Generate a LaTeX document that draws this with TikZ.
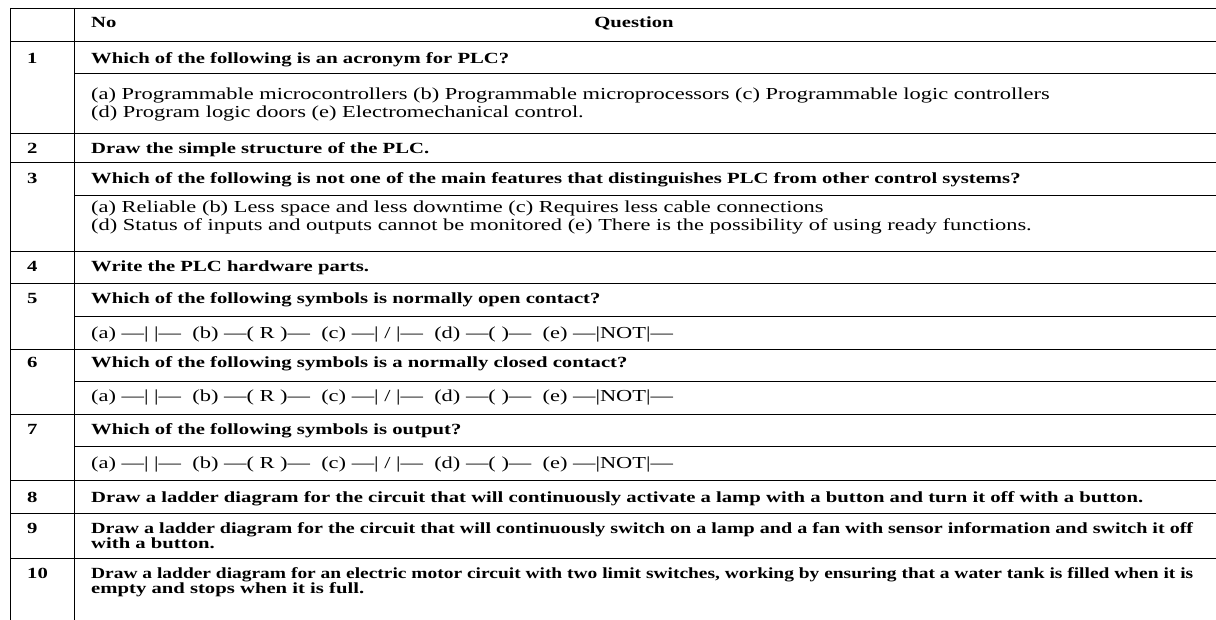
\documentclass[tikz,border=0pt]{standalone}
\usepackage{graphicx}
\usepackage{fontspec}
\setmainfont{Liberation Serif}[FakeStretch=1.335]
\usetikzlibrary{positioning}

% answer line used by questions 5 to 7
\newcommand{\syms}{(a) —| |—~~(b) —( R )—~~(c) —| / |—~~(d) —( )—~~(e) —|NOT|—}
% squeeze or widen one line to a given width
\newcommand{\fitw}[2]{\resizebox{#1}{\height}{#2}}

\begin{document}
\begin{tikzpicture}[x=1pt,y=-1pt,
    every node/.style={inner sep=0pt,anchor=base west},
    num/.style={font=\fontsize{15.5}{16}\selectfont\bfseries},
    ques/.style={font=\fontsize{15.5}{16}\selectfont\bfseries},
    ans/.style={font=\fontsize{16.8}{17.5}\selectfont},
    rule/.style={line width=0.8pt}]
    \useasboundingbox (0,0) rectangle (1216,620);

    % outer left edge and the column rule
    \draw[rule] (10,8) -- (10,620);
    \draw[rule] (74,8) -- (74,620);
    % full rows
    \foreach \y in {8,41,133,162,251,283,349,414,480,513,558}
        \draw[rule] (10,\y) -- (1216,\y);
    % question / answer split
    \foreach \y in {73,195,316,381,446}
        \draw[rule] (74,\y) -- (1216,\y);

    % header
    \node[num] (hno) at (91,28) {No};
    \node[num,anchor=base] (hq) at (634,28) {Question};

    % 1
    \node[num] (n1) at (27,64) {1};
    \node[ques] (q1) at (91,64) {Which of the following is an acronym for PLC?};
    \node[ans] (a1) at (91,100) {(a) Programmable microcontrollers (b) Programmable microprocessors (c) Programmable logic controllers};
    \node[ans] (a1b) at ([yshift=-17.5pt]a1.base west) {(d) Program logic doors (e) Electromechanical control.};

    % 2
    \node[num] (n2) at (27,154) {2};
    \node[ques] (q2) at (91,154) {Draw the simple structure of the PLC.};

    % 3
    \node[num] (n3) at (27,184) {3};
    \node[ques] (q3) at (91,184) {Which of the following is not one of the main features that distinguishes PLC from other control systems?};
    \node[ans] (a3) at (91,213) {(a) Reliable (b) Less space and less downtime (c) Requires less cable connections};
    \node[ans] (a3b) at ([yshift=-17.5pt]a3.base west) {(d) Status of inputs and outputs cannot be monitored (e) There is the possibility of using ready functions.};

    % 4
    \node[num] (n4) at (27,272) {4};
    \node[ques] (q4) at (91,272) {Write the PLC hardware parts.};

    % 5 - 7, ladder symbols
    \node[num] (n5) at (27,304) {5};
    \node[ques] (q5) at (91,304) {Which of the following symbols is normally open contact?};
    \node[ans] (a5) at (91,339) {\syms};

    \node[num] (n6) at (27,368) {6};
    \node[ques] (q6) at (91,368) {Which of the following symbols is a normally closed contact?};
    \node[ans] (a6) at (91,402) {\syms};

    \node[num] (n7) at (27,434) {7};
    \node[ques] (q7) at (91,434) {Which of the following symbols is output?};
    \node[ans] (a7) at (91,468) {\syms};

    % 8 - 10
    \node[num] (n8) at (27,502) {8};
    \node[ques] (q8) at (91,502) {Draw a ladder diagram for the circuit that will continuously activate a lamp with a button and turn it off with a button.};

    \node[num] (n9) at (27,533) {9};
    \node[ques] (q9) at (91,533) {\fitw{1102pt}{Draw a ladder diagram for the circuit that will continuously switch on a lamp and a fan with sensor information and switch it off}};
    \node[ques] (q9b) at ([yshift=-15.5pt]q9.base west) {with a button.};

    \node[num] (n10) at (27,578) {10};
    \node[ques] (q10) at (91,578) {\fitw{1102pt}{Draw a ladder diagram for an electric motor circuit with two limit switches, working by ensuring that a water tank is filled when it is}};
    \node[ques] (q10b) at ([yshift=-15.5pt]q10.base west) {empty and stops when it is full.};
\end{tikzpicture}
\end{document}
